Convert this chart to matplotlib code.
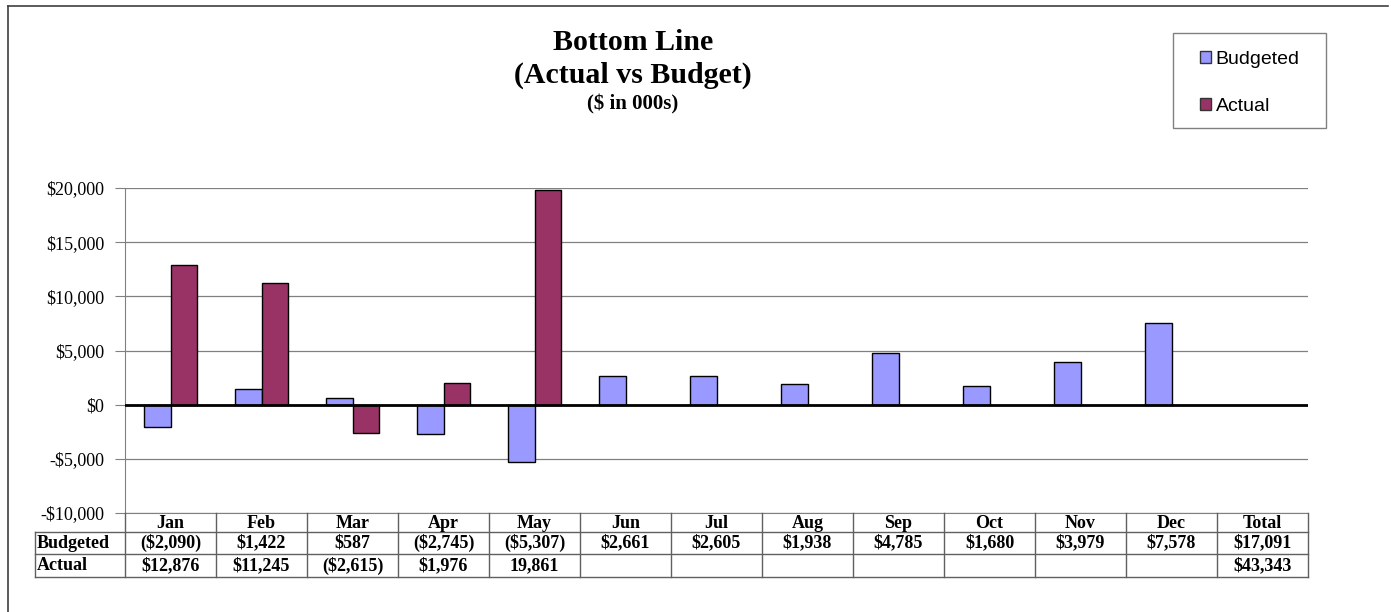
import matplotlib
matplotlib.use("Agg")
import matplotlib.pyplot as plt
from matplotlib.patches import Patch, Rectangle
from matplotlib.lines import Line2D
import matplotlib.transforms as mtransforms
from matplotlib.ticker import FuncFormatter

categories = ["Jan", "Feb", "Mar", "Apr", "May", "Jun", "Jul", "Aug", "Sep", "Oct", "Nov", "Dec", "Total"]
budgeted = [-2090, 1422, 587, -2745, -5307, 2661, 2605, 1938, 4785, 1680, 3979, 7578]
actual = [12876, 11245, -2615, 1976, 19861]
budgeted_labels = ["($2,090)", "$1,422", "$587", "($2,745)", "($5,307)", "$2,661", "$2,605",
                   "$1,938", "$4,785", "$1,680", "$3,979", "$7,578", "$17,091"]
actual_labels = ["$12,876", "$11,245", "($2,615)", "$1,976", "19,861", "", "", "", "", "", "", "", "$43,343"]
row_labels = ["Budgeted", "Actual"]
yticks = [-10000, -5000, 0, 5000, 10000, 15000, 20000]

W, H = 1391, 612
fig = plt.figure(figsize=(W / 100, H / 100), dpi=100)
serif = "Liberation Serif"
sans = "Liberation Sans"

def fx(px):
    return px / W

def fy(py):
    return 1 - py / H

ax = fig.add_axes([fx(125), fy(513), (1308 - 125) / W, (513 - 188) / H])

bw = 0.29
xb = [i - bw / 2 for i in range(len(budgeted))]
xa = [i + bw / 2 for i in range(len(actual))]
c_bud = "#9999FF"
c_act = "#993366"
ax.bar(xb, budgeted, width=bw, color=c_bud, edgecolor="#000000", linewidth=1.0, zorder=3)
ax.bar(xa, actual, width=bw, color=c_act, edgecolor="#000000", linewidth=1.0, zorder=3)

ax.set_xlim(-0.5, len(categories) - 0.5)
ax.set_ylim(-10000, 20000)
ax.set_yticks(yticks)
ax.yaxis.set_major_formatter(FuncFormatter(lambda v, p: ("-$" if v < 0 else "$") + f"{abs(int(v)):,}"))
for lab in ax.get_yticklabels():
    lab.set_fontfamily(serif)
    lab.set_fontsize(13)
ax.tick_params(axis="y", length=7, color="#808080", pad=8)
ax.set_xticks([])
ax.grid(axis="y", color="#808080", linewidth=0.9, zorder=0)
ax.axhline(0, color="#000000", linewidth=2, zorder=4)
for s in ["top", "right"]:
    ax.spines[s].set_visible(False)
ax.spines["left"].set_color("#808080")
ax.spines["bottom"].set_color("#808080")

# Table below the axis
tr = mtransforms.blended_transform_factory(ax.transData, fig.transFigure)
y_rows = [fy(513), fy(532), fy(554), fy(577)]
x_left = -1.49
lc = "#606060"
lw = 1.0
n = len(categories)
for y in y_rows[1:]:
    fig.add_artist(Line2D([x_left, n - 0.5], [y, y], transform=tr, color=lc, lw=lw))
for i in range(n + 1):
    fig.add_artist(Line2D([i - 0.5, i - 0.5], [y_rows[0], y_rows[3]], transform=tr, color=lc, lw=lw))
fig.add_artist(Line2D([x_left, x_left], [y_rows[1], y_rows[3]], transform=tr, color=lc, lw=lw))

tfont = dict(fontfamily=serif, fontweight="bold", fontsize=13, va="center")
for i, c in enumerate(categories):
    fig.text(i, (y_rows[0] + y_rows[1]) / 2 - 0.002, c, transform=tr, ha="center", **tfont)
    fig.text(i, (y_rows[1] + y_rows[2]) / 2, budgeted_labels[i], transform=tr, ha="center", **tfont)
    fig.text(i, (y_rows[2] + y_rows[3]) / 2, actual_labels[i], transform=tr, ha="center", **tfont)
fig.text(fx(37), (y_rows[1] + y_rows[2]) / 2, row_labels[0], ha="left", **tfont)
fig.text(fx(37), (y_rows[2] + y_rows[3]) / 2, row_labels[1], ha="left", **tfont)

# Title
fig.text(fx(633), fy(42), "Bottom Line", ha="center", va="center", fontfamily=serif, fontweight="bold", fontsize=21.5)
fig.text(fx(633), fy(75), "(Actual vs Budget)", ha="center", va="center", fontfamily=serif, fontweight="bold", fontsize=21.5)
fig.text(fx(633), fy(104), "($ in 000s)", ha="center", va="center", fontfamily=serif, fontweight="bold", fontsize=15)

# Legend (frame drawn separately)
fig.add_artist(Rectangle((fx(1173), fy(128)), fx(1326) - fx(1173), fy(33) - fy(128),
                         transform=fig.transFigure, fill=False, edgecolor="#808080", lw=1.0))
handles = [Patch(facecolor=c_bud, edgecolor="#333333", label="Budgeted"),
           Patch(facecolor=c_act, edgecolor="#333333", label="Actual")]
leg = fig.legend(handles=handles, loc="upper left", bbox_to_anchor=(fx(1200), fy(51)),
                 frameon=False, prop={"family": sans, "size": 14},
                 handlelength=0.55, handleheight=0.55,
                 handletextpad=0.25, labelspacing=1.55, borderpad=0, borderaxespad=0)

# Outer border (left and top edges only visible)
fig.add_artist(Line2D([fx(8), fx(8)], [fy(612), fy(6)], transform=fig.transFigure, color="#404040", lw=1.2))
fig.add_artist(Line2D([fx(8), fx(1388)], [fy(6), fy(6)], transform=fig.transFigure, color="#404040", lw=1.2))

fig.savefig("out.png", dpi=100)
